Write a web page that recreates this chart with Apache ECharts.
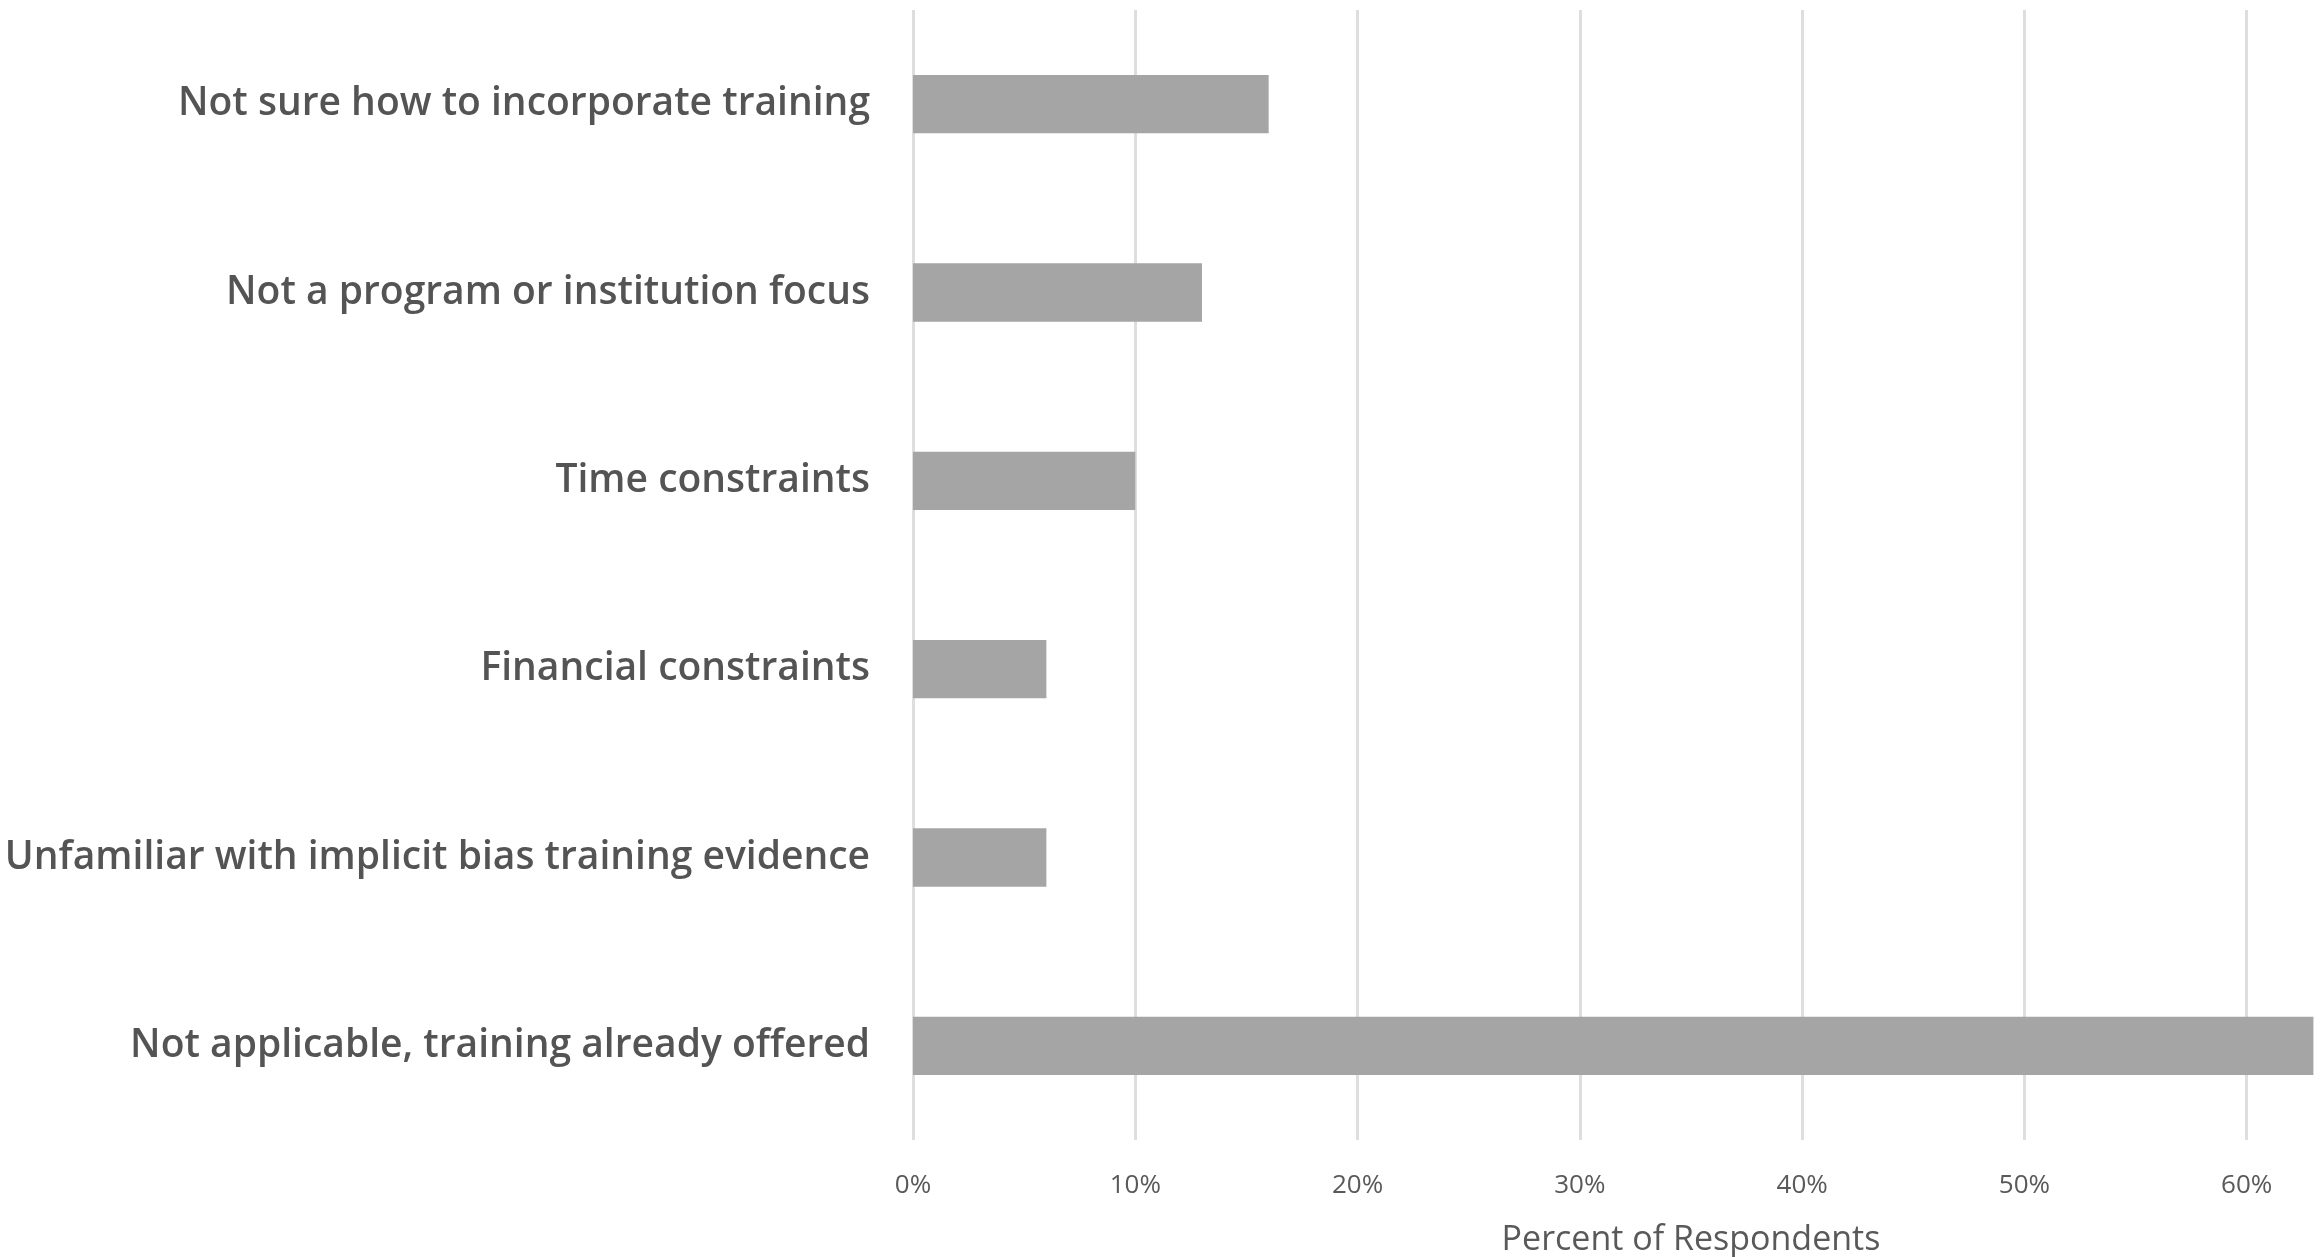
<!DOCTYPE html>
<html>
<head>
<meta charset="utf-8">
<title>Barriers to offering implicit bias training</title>
<script src="https://cdn.jsdelivr.net/npm/echarts@6/dist/echarts.min.js"></script>
<style>
  html, body { margin: 0; padding: 0; background: #ffffff; }
  #chart { width: 2321px; height: 1257px; }
</style>
</head>
<body>
<div id="chart"></div>
<script>
// Reasons, listed top to bottom
const categories = [
  "Not sure how to incorporate training",
  "Not a program or institution focus",
  "Time constraints",
  "Financial constraints",
  "Unfamiliar with implicit bias training evidence",
  "Not applicable, training already offered"
];
// Share of respondents (%)
const percentValues = [16, 13, 10, 6, 6, 63];
// Value axis range and step (%)
const axisMin = 0;
const axisMax = 70;
const axisStep = 10;
const axisTitle = "Percent of Respondents";

const chart = echarts.init(document.getElementById('chart'), null, { renderer: 'canvas' });

const fontFamily = '"Open Sans", Lato, sans-serif';

chart.setOption({
  animation: false,
  backgroundColor: '#ffffff',
  grid: {
    // the 0–70% plot runs past the right edge of the canvas; 70% lies off-screen
    left: 913,
    right: -148,
    top: 10,
    bottom: 117,
    containLabel: false,
    outerBoundsMode: 'none'
  },
  xAxis: {
    type: 'value',
    min: axisMin,
    max: axisMax,
    interval: axisStep,
    name: axisTitle,
    nameLocation: 'middle',
    nameGap: 83,
    nameTextStyle: { color: '#595959', fontSize: 34, fontFamily: fontFamily },
    axisLine: { show: false },
    axisTick: { show: false },
    axisLabel: {
      color: '#595959',
      fontSize: 26,
      fontFamily: fontFamily,
      margin: 33,
      formatter: v => v + '%'
    },
    splitLine: { show: true, lineStyle: { color: '#dedede', width: 3 } }
  },
  yAxis: {
    type: 'category',
    data: categories,
    inverse: true,
    axisLine: { show: false },
    axisTick: { show: false },
    axisLabel: {
      color: '#545454',
      fontSize: 39,
      fontWeight: 600,
      fontFamily: fontFamily,
      margin: 43
    }
  },
  series: [{
    type: 'bar',
    data: percentValues,
    barWidth: '31%',
    itemStyle: { color: '#a5a5a5' }
  }]
});
</script>
</body>
</html>
